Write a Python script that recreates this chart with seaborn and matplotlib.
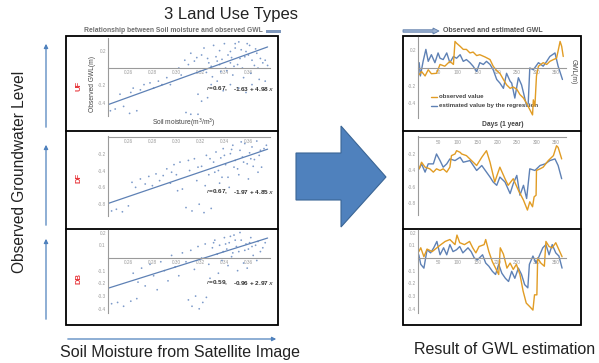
import matplotlib
matplotlib.use("Agg")
import matplotlib.pyplot as plt
from matplotlib.patches import Rectangle, Polygon
from matplotlib.ticker import FormatStrFormatter, AutoMinorLocator
import seaborn as sns
import numpy as np
import pandas as pd

# --- Data ---
land_use = ["UF", "DF", "DB"]
r_values = ["0.67", "0.67", "0.59"]
intercepts = [-1.63, -1.97, -0.96]
slopes = [4.98, 4.85, 2.97]

# soil moisture (m3/m3) vs observed GWL (m)
uf_x = [0.245, 0.249, 0.256, 0.261, 0.267, 0.253, 0.262, 0.264, 0.270, 0.273, 0.278, 0.281, 0.285, 0.288,
        0.292, 0.295, 0.302, 0.304, 0.307, 0.310, 0.312, 0.315, 0.318, 0.308, 0.312, 0.318, 0.321, 0.326,
        0.329, 0.321, 0.323, 0.326, 0.329, 0.331, 0.334, 0.337, 0.340, 0.343, 0.345, 0.347, 0.349, 0.352,
        0.353, 0.355, 0.356, 0.358, 0.361, 0.363, 0.365, 0.367, 0.370, 0.372, 0.334, 0.339, 0.345, 0.352,
        0.358, 0.363, 0.369, 0.374, 0.345, 0.349, 0.336, 0.359, 0.366, 0.341, 0.327, 0.333, 0.351, 0.357,
        0.362, 0.368, 0.374, 0.376, 0.338, 0.346, 0.354, 0.360, 0.317, 0.325, 0.330, 0.336, 0.342, 0.348]
uf_y = [-0.49, -0.47, -0.44, -0.52, -0.49, -0.30, -0.28, -0.23, -0.25, -0.19, -0.17, -0.23, -0.15, -0.19,
        -0.11, -0.19, 0.00, -0.08, 0.09, 0.04, 0.17, 0.08, -0.30, -0.51, -0.53, -0.53, -0.38, -0.34,
        -0.19, 0.15, 0.23, 0.11, 0.02, 0.26, 0.08, -0.04, 0.28, 0.15, 0.06, -0.08, 0.23, 0.30,
        0.11, 0.00, -0.11, 0.19, 0.26, 0.09, 0.03, 0.17, 0.11, 0.06, -0.15, -0.26, -0.19, -0.23,
        -0.28, -0.19, -0.13, -0.15, 0.19, 0.28, 0.20, 0.28, 0.22, 0.00, 0.06, 0.13, 0.04, 0.13,
        -0.06, 0.00, 0.09, 0.03, 0.10, 0.12, 0.21, 0.15, 0.12, -0.05, -0.10, 0.04, -0.03, 0.02]

df_x = [0.246, 0.250, 0.255, 0.260, 0.263, 0.266, 0.270, 0.274, 0.277, 0.280, 0.283, 0.286, 0.289, 0.292,
        0.295, 0.298, 0.300, 0.303, 0.305, 0.308, 0.311, 0.313, 0.315, 0.317, 0.319, 0.321, 0.323, 0.325,
        0.327, 0.329, 0.331, 0.333, 0.335, 0.337, 0.339, 0.341, 0.343, 0.345, 0.347, 0.349, 0.351, 0.353,
        0.355, 0.357, 0.359, 0.361, 0.363, 0.365, 0.367, 0.369, 0.371, 0.373, 0.375, 0.336, 0.344, 0.352,
        0.360, 0.368, 0.340, 0.348, 0.356, 0.364, 0.332, 0.338, 0.346, 0.354, 0.362, 0.370, 0.328, 0.324,
        0.318, 0.310, 0.301, 0.296]
df_y = [-0.88, -0.86, -0.89, -0.82, -0.54, -0.60, -0.50, -0.56, -0.47, -0.58, -0.44, -0.52, -0.46, -0.38,
        -0.55, -0.33, -0.45, -0.30, -0.62, -0.84, -0.40, -0.88, -0.26, -0.52, -0.80, -0.35, -0.90, -0.22,
        -0.45, -0.85, -0.30, -0.18, -0.40, -0.25, -0.14, -0.33, -0.48, -0.20, -0.10, -0.28, -0.38, -0.16,
        -0.24, -0.08, -0.32, -0.19, -0.12, -0.27, -0.05, -0.22, -0.36, -0.14, -0.10, -0.55, -0.60, -0.45,
        -0.50, -0.42, -0.22, -0.36, -0.30, -0.35, -0.42, -0.48, -0.15, -0.06, -0.26, -0.16, -0.26, -0.58,
        -0.36, -0.28, -0.64, -0.42]

db_x = [0.246, 0.251, 0.256, 0.262, 0.267, 0.264, 0.268, 0.271, 0.274, 0.278, 0.281, 0.284, 0.287, 0.290,
        0.293, 0.296, 0.299, 0.302, 0.305, 0.308, 0.310, 0.313, 0.316, 0.319, 0.322, 0.325, 0.312, 0.315,
        0.318, 0.321, 0.324, 0.327, 0.330, 0.332, 0.334, 0.336, 0.338, 0.340, 0.342, 0.344, 0.346, 0.348,
        0.350, 0.352, 0.354, 0.356, 0.358, 0.360, 0.362, 0.364, 0.366, 0.368, 0.370, 0.372, 0.374, 0.353,
        0.345, 0.339, 0.361, 0.367, 0.343, 0.351, 0.359, 0.335, 0.328, 0.347, 0.357, 0.331, 0.341, 0.363,
        0.349]
db_y = [-0.36, -0.35, -0.38, -0.34, -0.32, -0.12, -0.19, -0.08, -0.22, -0.05, -0.14, -0.25, -0.03, -0.10,
        -0.18, 0.02, -0.07, -0.14, 0.04, -0.03, -0.33, -0.38, -0.30, -0.40, -0.35, -0.31, 0.06, -0.09,
        0.09, 0.00, 0.11, -0.05, 0.08, 0.14, 0.03, 0.10, -0.02, 0.16, 0.07, 0.12, 0.01, 0.18,
        0.09, 0.05, 0.14, -0.04, 0.11, 0.07, 0.16, 0.02, 0.10, 0.13, 0.05, 0.08, 0.12, 0.20,
        0.17, 0.05, 0.12, -0.02, -0.06, -0.10, -0.08, -0.12, -0.16, 0.04, 0.06, 0.12, 0.11, 0.09,
        0.14]

# observed (orange) and estimated (blue) GWL over one year
uf_obs_day = [2, 8, 17, 25, 33, 46, 55, 67, 80, 89, 93, 97, 106, 114, 122, 131, 139, 148, 156, 169, 182,
              190, 199, 207, 216, 224, 233, 241, 250, 258, 267, 275, 283, 290, 292, 296, 300, 305, 317,
              326, 334, 343, 351, 360, 364, 368]
uf_obs = [-0.075, -0.04, -0.09, -0.02, -0.065, -0.06, 0.04, 0.02, 0.075, 0.04, 0.30, 0.28, 0.245, 0.21,
          0.21, 0.17, 0.18, 0.14, 0.15, 0.125, 0.095, 0.02, -0.03, -0.06, -0.13, -0.19, -0.23, -0.215,
          -0.24, -0.30, -0.34, -0.40, -0.47, -0.53, -0.36, -0.43, -0.09, 0.02, 0.06, 0.04, 0.075, 0.095,
          0.11, 0.30, 0.245, 0.13]
uf_est_day = [2, 5, 12, 19, 25, 33, 42, 50, 55, 63, 72, 80, 89, 97, 106, 114, 122, 131, 139, 148, 156,
              165, 173, 182, 190, 199, 207, 216, 224, 233, 237, 245, 254, 262, 267, 275, 279, 283, 292,
              305, 317, 326, 334, 347, 355, 366]
uf_est = [0.06, -0.09, 0.075, 0.21, 0.075, 0.15, 0.06, 0.17, 0.11, 0.095, 0.17, 0.06, 0.13, 0.11, 0.15,
          0.075, 0.095, 0.06, 0.02, -0.04, 0.06, 0.04, 0.075, 0.04, -0.02, -0.13, -0.17, -0.23, -0.06,
          -0.15, -0.17, -0.34, -0.11, -0.19, -0.28, -0.43, -0.40, 0.0, -0.02, 0.06, 0.02, 0.075, 0.13,
          0.17, 0.02, -0.13]

df_obs_day = [2, 8, 17, 29, 38, 46, 55, 63, 72, 80, 84, 93, 97, 106, 110, 122, 135, 148, 161, 173, 182,
              194, 207, 220, 228, 241, 254, 267, 277, 283, 290, 294, 299, 300, 309, 317, 330, 343, 351,
              355, 364]
df_obs = [-0.38, -0.30, -0.36, -0.38, -0.42, -0.38, -0.40, -0.38, -0.42, -0.36, -0.22, -0.20, -0.16,
          -0.18, -0.20, -0.22, -0.28, -0.34, -0.24, -0.16, -0.30, -0.54, -0.36, -0.50, -0.58, -0.50,
          -0.64, -0.76, -0.88, -0.78, -0.84, -0.72, -0.70, -0.40, -0.38, -0.36, -0.28, -0.22, -0.10,
          -0.12, -0.26]
df_est_day = [2, 8, 17, 25, 38, 46, 55, 63, 72, 80, 93, 106, 114, 131, 148, 161, 173, 182, 190, 199, 207,
              220, 233, 241, 250, 258, 267, 275, 283, 296, 309, 322, 334, 347, 355, 364]
df_est = [-0.38, -0.32, -0.42, -0.32, -0.32, -0.20, -0.28, -0.36, -0.32, -0.26, -0.28, -0.24, -0.30,
          -0.28, -0.40, -0.34, -0.42, -0.48, -0.54, -0.58, -0.48, -0.54, -0.68, -0.56, -0.46, -0.70,
          -0.58, -0.74, -0.38, -0.40, -0.34, -0.32, -0.28, -0.26, -0.34, -0.50]

db_obs_day = [1, 6, 14, 22, 35, 47, 55, 68, 80, 93, 98, 105, 117, 130, 138, 146, 154, 167, 171, 179, 188,
              196, 204, 208, 216, 225, 233, 241, 249, 258, 266, 274, 282, 291, 295, 301, 303, 311, 320,
              324, 332, 340, 349, 357, 365]
db_obs = [0.05, 0.08, 0.01, 0.07, 0.05, 0.08, 0.10, 0.13, 0.145, 0.105, 0.18, 0.12, 0.105, 0.13, 0.08,
          0.04, 0.09, 0.105, 0.145, 0.05, -0.03, -0.08, -0.13, 0.08, 0.03, -0.08, -0.04, -0.09, -0.05,
          -0.13, -0.26, -0.355, -0.38, -0.41, -0.29, -0.29, 0.0, -0.04, -0.065, 0.13, 0.09, 0.08, 0.12,
          0.065, 0.01]
db_est_day = [1, 6, 14, 22, 31, 39, 47, 55, 64, 72, 80, 88, 97, 105, 113, 126, 134, 142, 150, 163, 171,
              179, 188, 196, 204, 212, 221, 229, 237, 245, 254, 262, 270, 278, 282, 291, 299, 307, 316,
              324, 332, 340, 349, 357, 365]
db_est = [0.025, -0.05, -0.08, 0.065, 0.04, 0.08, 0.13, 0.025, 0.08, 0.025, 0.105, 0.05, 0.065, 0.09,
          0.04, 0.08, 0.05, 0.0, -0.015, 0.025, -0.04, -0.065, -0.105, -0.13, -0.05, -0.12, -0.16,
          -0.185, -0.105, -0.16, -0.08, -0.13, -0.21, -0.235, -0.05, 0.015, -0.04, 0.015, 0.08, 0.105,
          0.025, 0.105, 0.04, 0.015, -0.08]

# --- Style ---
sns.set_style("white")
plt.rcParams["font.family"] = ["Liberation Sans", "DejaVu Sans"]
BLUE = "#5E81B5"
ORANGE = "#E19C24"
AXGRAY = "#9a9a9a"

W, H = 599, 363
fig = plt.figure(figsize=(W / 100, H / 100), dpi=100)


def rect(x0, y0, x1, y1):
    # pixel box (top-left origin) -> figure fraction
    return [x0 / W, 1 - y1 / H, (x1 - x0) / W, (y1 - y0) / H]


# overlay in pixel coordinates for boxes, arrows and labels
ov = fig.add_axes([0, 0, 1, 1])
ov.set_xlim(0, W)
ov.set_ylim(H, 0)
ov.axis("off")


def math_axes(ax, xticks, yticks, xfmt, yfmt, xminor):
    # Mathematica-like axes crossing at y = 0
    ax.patch.set_alpha(0)
    for s in ["top", "right"]:
        ax.spines[s].set_visible(False)
    ax.spines["bottom"].set_position(("data", 0))
    for s in ["bottom", "left"]:
        ax.spines[s].set_color(AXGRAY)
        ax.spines[s].set_linewidth(0.8)
    ax.set_xticks(xticks)
    ax.set_yticks(yticks)
    ax.xaxis.set_major_formatter(FormatStrFormatter(xfmt))
    ax.yaxis.set_major_formatter(FormatStrFormatter(yfmt))
    ax.xaxis.set_minor_locator(AutoMinorLocator(xminor))
    ax.yaxis.set_minor_locator(AutoMinorLocator(4))
    ax.tick_params(which="major", direction="in", length=2.2, width=0.5, colors=AXGRAY,
                   labelsize=3.4, pad=1.5)
    ax.tick_params(which="minor", direction="in", length=1.2, width=0.4, colors=AXGRAY)
    ax.set_xlabel("")
    ax.set_ylabel("")


# --- left: scatter panels ---
sc_boxes = [(108, 38, 270, 116), (108, 136, 270, 216), (108, 230, 270, 313)]
sc_ylims = [(-0.55, 0.345), (-0.94, 0.01), (-0.433, 0.22)]
sc_yticks = [[-0.4, -0.2, 0.2], [-0.8, -0.6, -0.4, -0.2], [-0.4, -0.3, -0.2, -0.1, 0.1, 0.2]]
sc_data = [(uf_x, uf_y), (df_x, df_y), (db_x, db_y)]
line_x = np.array([0.243, 0.376])

for i in range(3):
    ax = fig.add_axes(rect(*sc_boxes[i]))
    pts = pd.DataFrame({"x": sc_data[i][0], "y": sc_data[i][1]})
    sns.scatterplot(data=pts, x="x", y="y", ax=ax, s=1.6, color="#6F90C4", edgecolor="none",
                    linewidth=0, alpha=0.9)
    sns.lineplot(x=line_x, y=intercepts[i] + slopes[i] * line_x, ax=ax, color=BLUE, lw=0.9)
    ax.set_xlim(0.243, 0.378)
    ax.set_ylim(*sc_ylims[i])
    math_axes(ax, [0.26, 0.28, 0.30, 0.32, 0.34, 0.36], sc_yticks[i], "%.2f", "%.1f", 4)

# --- right: time series panels ---
ts_boxes = [(418, 37, 566, 118), (418, 136, 566, 215), (418, 230, 566, 313)]
ts_ylims = [(-0.565, 0.35), (-0.94, 0.018), (-0.433, 0.22)]
ts_yticks = [[-0.4, -0.2, 0.2], [-0.8, -0.6, -0.4, -0.2], [-0.4, -0.3, -0.2, -0.1, 0.1, 0.2]]
ts_data = [(uf_obs_day, uf_obs, uf_est_day, uf_est),
           (df_obs_day, df_obs, df_est_day, df_est),
           (db_obs_day, db_obs, db_est_day, db_est)]

for i in range(3):
    ax = fig.add_axes(rect(*ts_boxes[i]))
    od, ov_, ed, ev = ts_data[i]
    sns.lineplot(x=ed, y=ev, ax=ax, color=BLUE, lw=1.0)
    sns.lineplot(x=od, y=ov_, ax=ax, color=ORANGE, lw=1.0)
    ax.set_xlim(-1, 375)
    ax.set_ylim(*ts_ylims[i])
    math_axes(ax, [50, 100, 150, 200, 250, 300, 350], ts_yticks[i], "%d", "%.1f", 10)

# --- frames ---
for x0, x1 in [(66, 278), (403, 581)]:
    ov.add_patch(Rectangle((x0, 36), x1 - x0, 325 - 36, fill=False, ec="black", lw=1.3))
    for yy in (130.5, 228.5):
        ov.plot([x0, x1], [yy, yy], color="black", lw=1.3)

# big block arrow
ov.add_patch(Polygon([(296, 153), (341, 153), (341, 126), (386, 177), (341, 227), (341, 200), (296, 200)],
                     closed=True, fc="#4F81BD", ec="#3A6595", lw=0.8))

# left vertical arrows
for y_from, y_to in [(322, 236), (228, 142), (130, 41)]:
    ov.annotate("", xy=(46, y_to), xytext=(46, y_from),
                arrowprops=dict(arrowstyle="-|>", color="#4F81BD", lw=0.9, mutation_scale=6))
# bottom arrow
ov.annotate("", xy=(279, 339), xytext=(65, 339),
            arrowprops=dict(arrowstyle="-|>", color="#4F81BD", lw=0.9, mutation_scale=6))

# small header arrow and bar
ov.add_patch(Polygon([(403, 29.8), (433, 29.8), (433, 28), (439, 31), (433, 34), (433, 32.2), (403, 32.2)],
                     closed=True, fc="#9DB3D3", ec="#5A7AA8", lw=0.6))
ov.add_patch(Rectangle((266, 29.5), 15, 3, fc="#7F98BC", ec="none"))

# --- texts ---
ov.text(231, 15, "3 Land Use Types", fontsize=12, ha="center", va="center", color="#222222")
ov.text(173, 31, "Relationship between Soil moisture and observed GWL", fontsize=4.9, ha="center",
        va="center", color="#707070", fontweight="bold")
ov.text(493, 31, "Observed and estimated GWL", fontsize=5, ha="center", va="center",
        color="#555555", fontweight="bold")
ov.text(20, 172, "Observed Groundwater Level", fontsize=11.2, rotation=90, ha="center", va="center",
        color="#222222")
ov.text(180, 352, "Soil Moisture from Satellite Image", fontsize=11.5, ha="center", va="center",
        color="#222222")
ov.text(505, 349, "Result of GWL estimation", fontsize=11.5, ha="center", va="center", color="#222222")

label_y = [86, 178, 278]
eq_y = [89, 192, 283]
for i in range(3):
    ov.text(79, label_y[i], land_use[i], fontsize=5.5, rotation=90, ha="center", va="center",
            color="#E8383D", fontweight="bold")
    ov.text(206, eq_y[i], "$r$=" + r_values[i] + ",", fontsize=4.6, ha="left", va="center",
            color="#333333", fontweight="bold")
    ov.text(233, eq_y[i], f"{intercepts[i]:.2f} + {slopes[i]:.2f} $x$", fontsize=4.6, ha="left",
            va="center", color="#333333", fontweight="bold")

ov.text(92, 84, "Observed GWL(m)", fontsize=4.8, rotation=90, ha="center", va="center", color="#444444")
ov.text(184, 123, "Soil moisture(m$^3$/m$^3$)", fontsize=4.8, ha="center", va="center", color="#444444")
ov.text(573, 72, "GWL(m)", fontsize=4.8, rotation=-90, ha="center", va="center", color="#444444")
ov.text(503, 124, "Days (1 year)", fontsize=4.8, ha="center", va="center", color="#444444",
        fontweight="bold")

# legend of the first time series panel
ov.plot([431, 437], [97, 97], color=ORANGE, lw=1)
ov.text(439, 97, "observed value", fontsize=4.4, ha="left", va="center", color="#444444", fontweight="bold")
ov.plot([431, 437], [106, 106], color=BLUE, lw=1)
ov.text(439, 106, "estimated value by the regression", fontsize=4.4, ha="left", va="center",
        color="#444444", fontweight="bold")

fig.savefig("out.png", dpi=100)
